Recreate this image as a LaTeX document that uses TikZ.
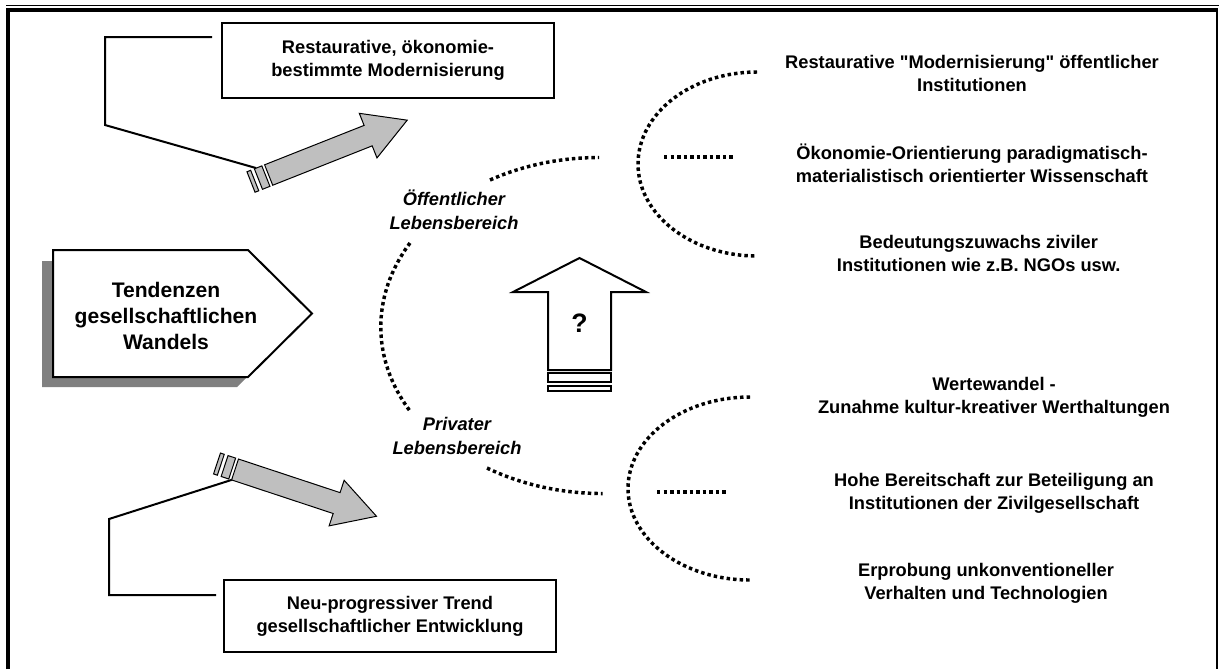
\documentclass[tikz,border=0pt]{standalone}
\usepackage{fontspec}
\setmainfont{Liberation Sans}[Ligatures=TeXOff]
\usetikzlibrary{positioning}

\begin{document}
\begin{tikzpicture}[x=0.75pt, y=-0.75pt, node distance=67.5pt,
    box/.style={draw, line width=1.5pt, align=center, minimum width=249pt, minimum height=54pt,
      font=\fontsize{13.7}{17.25}\selectfont\bfseries},
    txt/.style={align=center, font=\fontsize{13.7}{17.25}\selectfont\bfseries},
    lbl/.style={align=center, font=\fontsize{13.7}{18}\selectfont\bfseries\itshape},
    link/.style={line width=1.5pt},
    dots/.style={line width=2.6pt, dash pattern=on 2.6pt off 2.3pt},
    grayarrow/.style={draw, fill=gray!50, line width=0.75pt},
    qarrow/.style={draw, fill=white, line width=1.5pt}]
    \useasboundingbox (0,0) rectangle (1219,669);

    % Frame
    \draw[line width=0.75pt] (6,5) -- (1219,5);
    \draw[line width=3pt] (8,669) -- (8,10) -- (1218,10);
    \draw[line width=1.5pt] (1217,10) -- (1217,669);

    % Tendencies
    \fill[gray] (42,261) -- (237,261) -- (301,324) -- (237,387) -- (42,387) -- cycle;
    \draw[line width=1.5pt, fill=white] (53,250) -- (248,250) -- (312,313.5) -- (248,377) -- (53,377) -- cycle;
    \node[align=center, font=\fontsize{15.8}{19.5}\selectfont\bfseries] (tw) at (166,316)
        {Tendenzen\\gesellschaftlichen\\Wandels};

    % Trends
    \node[box, minimum height=56pt] (tb) at (388,60.5) {Restaurative, ökonomie-\\bestimmte Modernisierung};
    \node[box] (bb) at (390,616) {Neu-progressiver Trend\\gesellschaftlicher Entwicklung};

    % Striped arrows
    \begin{scope}[shift={(251,182)}, rotate=21.6]
        \draw[grayarrow] (0,-11) rectangle (4,11) (8,-11) rectangle (16,11);
        \draw[grayarrow] (19,-11) -- (126,-11) -- (126,-24) -- (168,0) -- (126,24) -- (126,11) -- (19,11) -- cycle;
        \coordinate (ua) at (10,-11);
    \end{scope}
    \begin{scope}[shift={(217,463.5)}, rotate=-18.3]
        \draw[grayarrow] (0,-11) rectangle (4,11) (8,-11) rectangle (16,11);
        \draw[grayarrow] (19,-11) -- (126,-11) -- (126,-24) -- (168,0) -- (126,24) -- (126,11) -- (19,11) -- cycle;
        \coordinate (la) at (19,11);
    \end{scope}

    % Brackets
    \coordinate (c1) at (212,37);
    \coordinate (c2) at (216,595);
    \draw[link] (c1) -| (105,125) -- (ua);
    \draw[link] (c2) -| (109,519) -- (la);

    % Spheres of life
    \node[lbl] (pub) at (454,210) {Öffentlicher\\Lebensbereich};
    \node[lbl] (prv) at (457,436) {Privater\\Lebensbereich};
    \draw[dots] (490,180) arc[start angle=240, end angle=270, x radius=218, y radius=168];
    \draw[dots] (410,243) arc[start angle=210, end angle=150, x radius=218, y radius=168];
    \draw[dots] (487,468) arc[start angle=122, end angle=90, x radius=218, y radius=168];

    % Question
    \draw[qarrow] (548,370) -- (548,292) -- (513,292) -- (579.5,258) -- (646,292) -- (611,292) -- (611,370) -- cycle;
    \draw[qarrow] (548,373) rectangle (611,382) (548,386) rectangle (611,391);
    \node[font=\fontsize{20}{22}\selectfont\bfseries] (q) at (579.5,323) {?};

    % Public items
    \draw[dots] (757,72) arc[start angle=270, end angle=90, x radius=119, y radius=92];
    \draw[dots] (664,157) -- (733,157);
    \node[txt] (r1) at (972,73) {Restaurative "Modernisierung" öffentlicher\\Institutionen};
    \node[txt, below of=r1] (r2) {Ökonomie-Orientierung paradigmatisch-\\materialistisch orientierter Wissenschaft};
    \node[txt, below of=r2, xshift=5pt] (r3) {Bedeutungszuwachs ziviler\\Institutionen wie z.B. NGOs usw.};

    % Private items
    \draw[dots] (750,397) arc[start angle=270, end angle=90, x radius=122, y radius=91.5];
    \draw[dots] (657,492) -- (727,492);
    \node[txt] (p1) at (994,397) {Wertewandel -\\Zunahme kultur-kreativer Werthaltungen};
    \node[txt, below of=p1, yshift=-5pt] (p2) {Hohe Bereitschaft zur Beteiligung an\\Institutionen der Zivilgesellschaft};
    \node[txt, below of=p2, xshift=-6pt] (p3) {Erprobung unkonventioneller\\Verhalten und Technologien};
\end{tikzpicture}
\end{document}
